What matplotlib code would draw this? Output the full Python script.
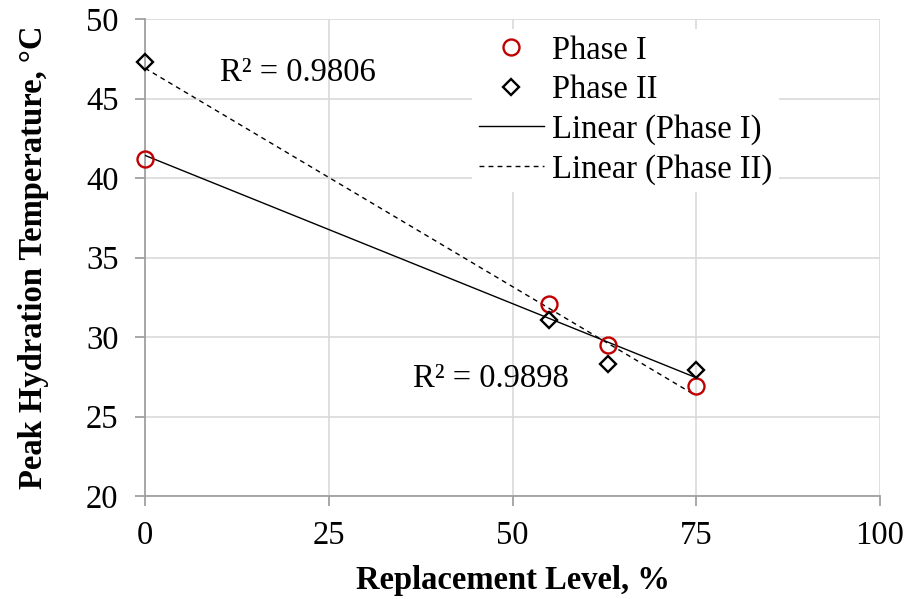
import matplotlib
matplotlib.use("Agg")
from matplotlib import pyplot as plt
import numpy as np

plt.rcParams['font.family'] = ['Liberation Serif', 'DejaVu Serif']

# replacement level (%) and peak hydration temperature (C)
level = [0, 55, 63, 75]
phase1 = [41.2, 32.1, 29.5, 26.9]
phase2 = [47.3, 31.1, 28.3, 27.9]
r2_labels = ["R² = 0.9806", "R² = 0.9898"]

FS = 23.5

fig = plt.figure(figsize=(9.08, 5.99), dpi=100)
ax = fig.add_axes([145/908, 1-496/599, 735/908, 477/599])

x = np.array(level)
c1 = np.polyfit(x, phase1, 1)
c2 = np.polyfit(x, phase2, 1)
xx = np.array([0, 75])

ax.plot(x, phase1, 'o', ms=11.5, mfc='none', mec='#c00000', mew=1.7, label='Phase I', zorder=4, clip_on=False)
ax.plot(x, phase2, 'D', ms=8.5, mfc='none', mec='black', mew=1.7, label='Phase II', zorder=4, clip_on=False)
ax.plot(xx, np.polyval(c1, xx), '-', color='black', lw=1.0, label='Linear (Phase I)', zorder=3)
ax.plot(xx, np.polyval(c2, xx), color='black', lw=1.0, ls=(0, (3.5, 3)), label='Linear (Phase II)', zorder=3)

ax.text(10.2, 46.6, r2_labels[0], fontsize=FS, va='center', ha='left')
ax.text(36.5, 27.4, r2_labels[1], fontsize=FS, va='center', ha='left')

ax.set_xlim(0, 100)
ax.set_ylim(20, 50)
ax.set_xticks([0, 25, 50, 75, 100])
ax.set_yticks([20, 25, 30, 35, 40, 45, 50])
ax.grid(True, color='#d9d9d9', lw=1.2, zorder=0)
ax.set_axisbelow(True)
for s in ['top', 'right']:
    ax.spines[s].set_visible(False)
for s in ['left', 'bottom']:
    ax.spines[s].set_color('#a0a0a0')
    ax.spines[s].set_linewidth(1.3)
ax.tick_params(axis='both', labelsize=FS, color='#a0a0a0', width=1.3, length=7, direction='out')
ax.tick_params(axis='x', pad=11)
ax.tick_params(axis='y', pad=12)

ax.set_xlabel('Replacement Level, %', fontsize=FS, fontweight='bold', labelpad=10)
ax.set_ylabel('Peak Hydration Temperature, °C', fontsize=FS, fontweight='bold', labelpad=27)

leg = ax.legend(loc='upper left', bbox_to_anchor=(0.445, 0.98), fontsize=FS, frameon=True,
                fancybox=False, handlelength=2.0, handletextpad=0.25, labelspacing=0.28,
                borderpad=0.2, borderaxespad=0)
leg.get_frame().set_edgecolor('none')
leg.get_frame().set_facecolor('white')
leg.get_frame().set_alpha(1)

fig.savefig('out.png', dpi=100)
